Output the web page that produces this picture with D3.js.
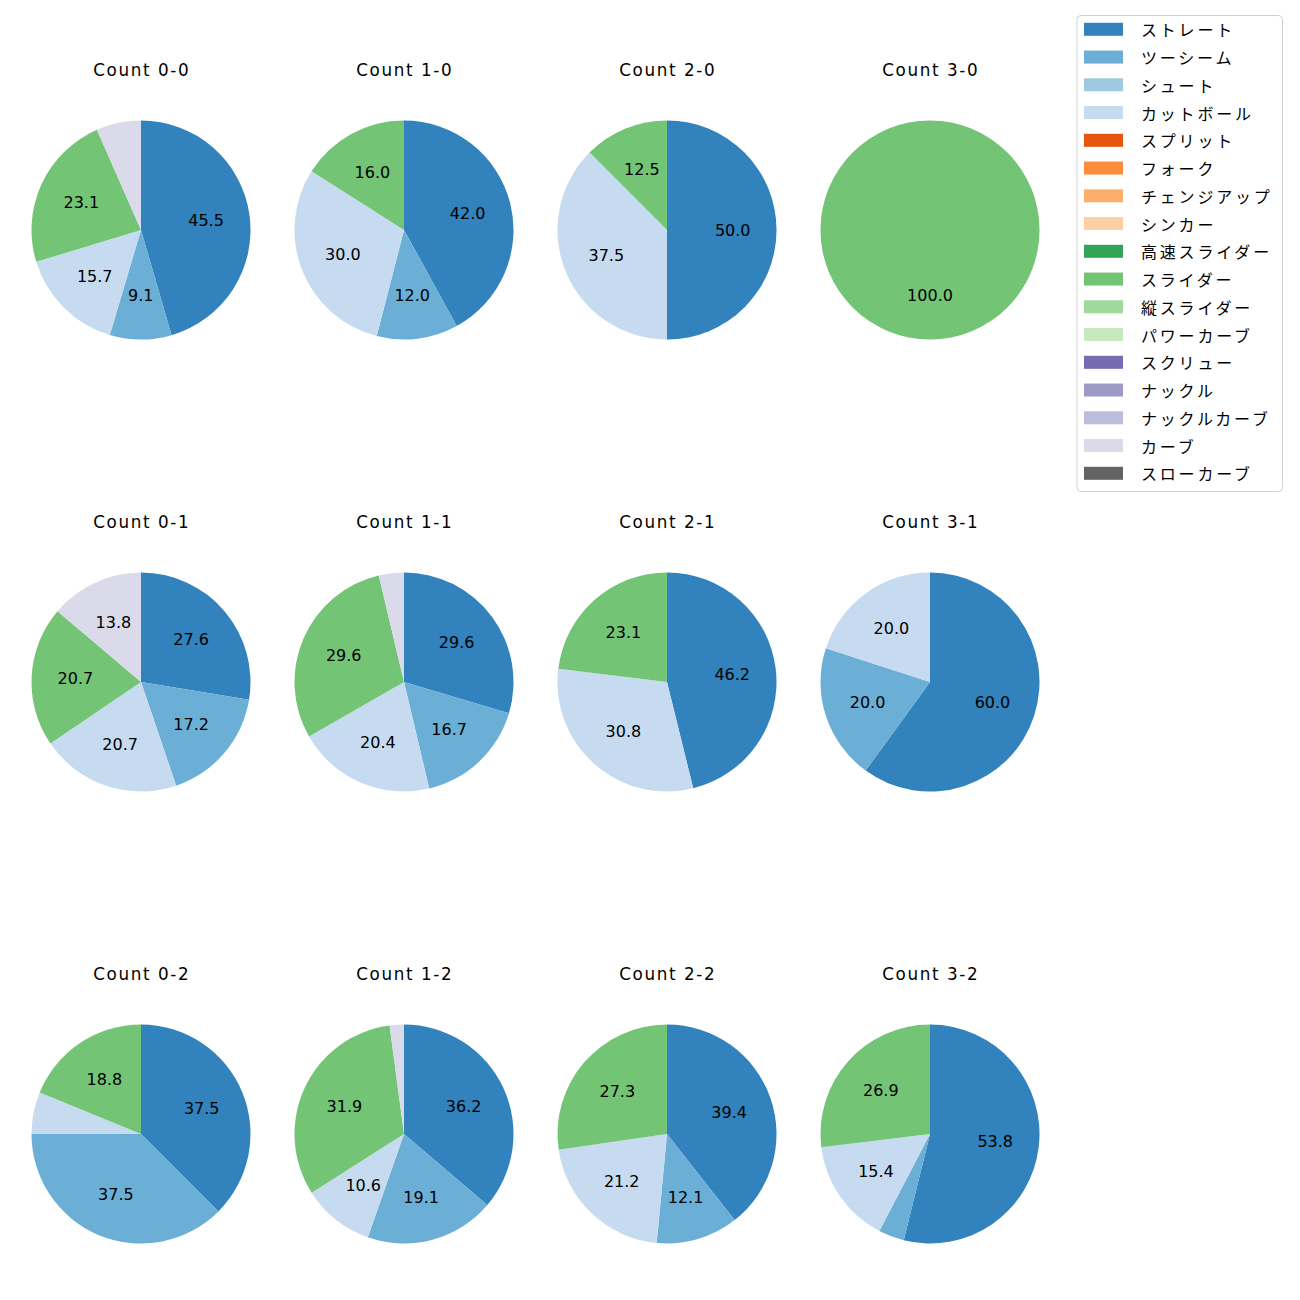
<!DOCTYPE html>
<html>
<head>
<meta charset="utf-8">
<script src="https://cdn.jsdelivr.net/npm/d3@7"></script>
<style>
  body { margin: 0; background: #fff; }
  svg { display: block; font-family: "Noto Sans CJK JP", "Noto Sans", sans-serif; }
  .latin { font-family: "DejaVu Sans", "Noto Sans CJK JP", sans-serif; }
</style>
</head>
<body>
<div id="chart"></div>
<script>
// Pitch types (legend order) and colours
const pitchTypes = ["ストレート","ツーシーム","シュート","カットボール","スプリット","フォーク","チェンジアップ","シンカー","高速スライダー","スライダー","縦スライダー","パワーカーブ","スクリュー","ナックル","ナックルカーブ","カーブ","スローカーブ"];
const pitchColors = ["#3182bd","#6baed6","#9ecae1","#c6dbef","#e6550d","#fd8d3c","#fdae6b","#fdd0a2","#31a354","#74c476","#a1d99b","#c7e9c0","#756bb1","#9e9ac8","#bcbddc","#dadaeb","#636363"];

// Count titles, in grid order (rows: strikes 0..2, cols: balls 0..3)
const countLabels = ["Count 0-0","Count 1-0","Count 2-0","Count 3-0",
                     "Count 0-1","Count 1-1","Count 2-1","Count 3-1",
                     "Count 0-2","Count 1-2","Count 2-2","Count 3-2"];

// Percentages per count, as [pitch type, percent]
const count00 = [["ストレート",45.5],["ツーシーム",9.1],["カットボール",15.7],["スライダー",23.1],["カーブ",6.6]];
const count10 = [["ストレート",42.0],["ツーシーム",12.0],["カットボール",30.0],["スライダー",16.0]];
const count20 = [["ストレート",50.0],["カットボール",37.5],["スライダー",12.5]];
const count30 = [["スライダー",100.0]];
const count01 = [["ストレート",27.6],["ツーシーム",17.2],["カットボール",20.7],["スライダー",20.7],["カーブ",13.8]];
const count11 = [["ストレート",29.6],["ツーシーム",16.7],["カットボール",20.4],["スライダー",29.6],["カーブ",3.7]];
const count21 = [["ストレート",46.2],["カットボール",30.8],["スライダー",23.1]];
const count31 = [["ストレート",60.0],["ツーシーム",20.0],["カットボール",20.0]];
const count02 = [["ストレート",37.5],["ツーシーム",37.5],["カットボール",6.2],["スライダー",18.8]];
const count12 = [["ストレート",36.2],["ツーシーム",19.1],["カットボール",10.6],["スライダー",31.9],["カーブ",2.1]];
const count22 = [["ストレート",39.4],["ツーシーム",12.1],["カットボール",21.2],["スライダー",27.3]];
const count32 = [["ストレート",53.8],["ツーシーム",3.8],["カットボール",15.4],["スライダー",26.9]];
const countData = [count00,count10,count20,count30,count01,count11,count21,count31,count02,count12,count22,count32];

const W = 1300, H = 1300;
const svg = d3.select("#chart").append("svg").attr("width", W).attr("height", H);

const color = d3.scaleOrdinal().domain(pitchTypes).range(pitchColors);
const colX = d3.scalePoint().domain([0,1,2,3]).range([141, 930]);
const rowY = d3.scalePoint().domain([0,1,2]).range([230, 1134]);
const R = 109.5;

const pie = d3.pie().sort(null).value(d => d[1]);
const arc = d3.arc().innerRadius(0).outerRadius(R);
const labelArc = d3.arc().innerRadius(R * 0.6).outerRadius(R * 0.6);

const TTL_LS = 1.6;

countData.forEach((data, i) => {
  const cx = colX(i % 4), cy = rowY(Math.floor(i / 4));
  const g = svg.append("g").attr("transform", `translate(${cx},${cy})`);
  const arcs = pie(data);
  g.selectAll("path").data(arcs).join("path")
    .attr("d", arc)
    .attr("fill", d => color(d.data[0]));
  g.selectAll("text.lbl").data(arcs.filter(d => d.data[1] > 7)).join("text")
    .attr("class", "lbl latin")
    .attr("transform", d => {
      const c = data.length === 1 ? [0, R * 0.6] : labelArc.centroid(d);
      return `translate(${c[0]},${c[1]})`;
    })
    .attr("text-anchor", "middle")
    .attr("dominant-baseline", "central")
    .attr("font-size", 16)
    .attr("fill", "#000")
    .text(d => d.data[1].toFixed(1));
  svg.append("text")
    .attr("class", "latin")
    .attr("x", cx + TTL_LS / 2).attr("y", cy - 154)
    .attr("text-anchor", "middle")
    .attr("font-size", 16.8)
    .attr("letter-spacing", TTL_LS + "px")
    .attr("fill", "#000")
    .text(countLabels[i]);
});

// Legend
const lg = svg.append("g");
lg.append("rect").attr("x", 1077).attr("y", 15.5).attr("width", 205.5).attr("height", 476)
  .attr("rx", 4).attr("fill", "#fff").attr("stroke", "#d0d0d0").attr("stroke-width", 1);
const ly = d3.scaleLinear().domain([0, pitchTypes.length - 1]).range([29.3, 473.3]);
pitchTypes.forEach((p, i) => {
  lg.append("rect").attr("x", 1084).attr("y", ly(i) - 6.5).attr("width", 39).attr("height", 13).attr("fill", color(p));
  lg.append("text").attr("x", 1141).attr("y", ly(i)).attr("dominant-baseline", "central")
    .attr("font-size", 16).attr("letter-spacing", "2.8px").attr("fill", "#000").text(p);
});
</script>
</body>
</html>
